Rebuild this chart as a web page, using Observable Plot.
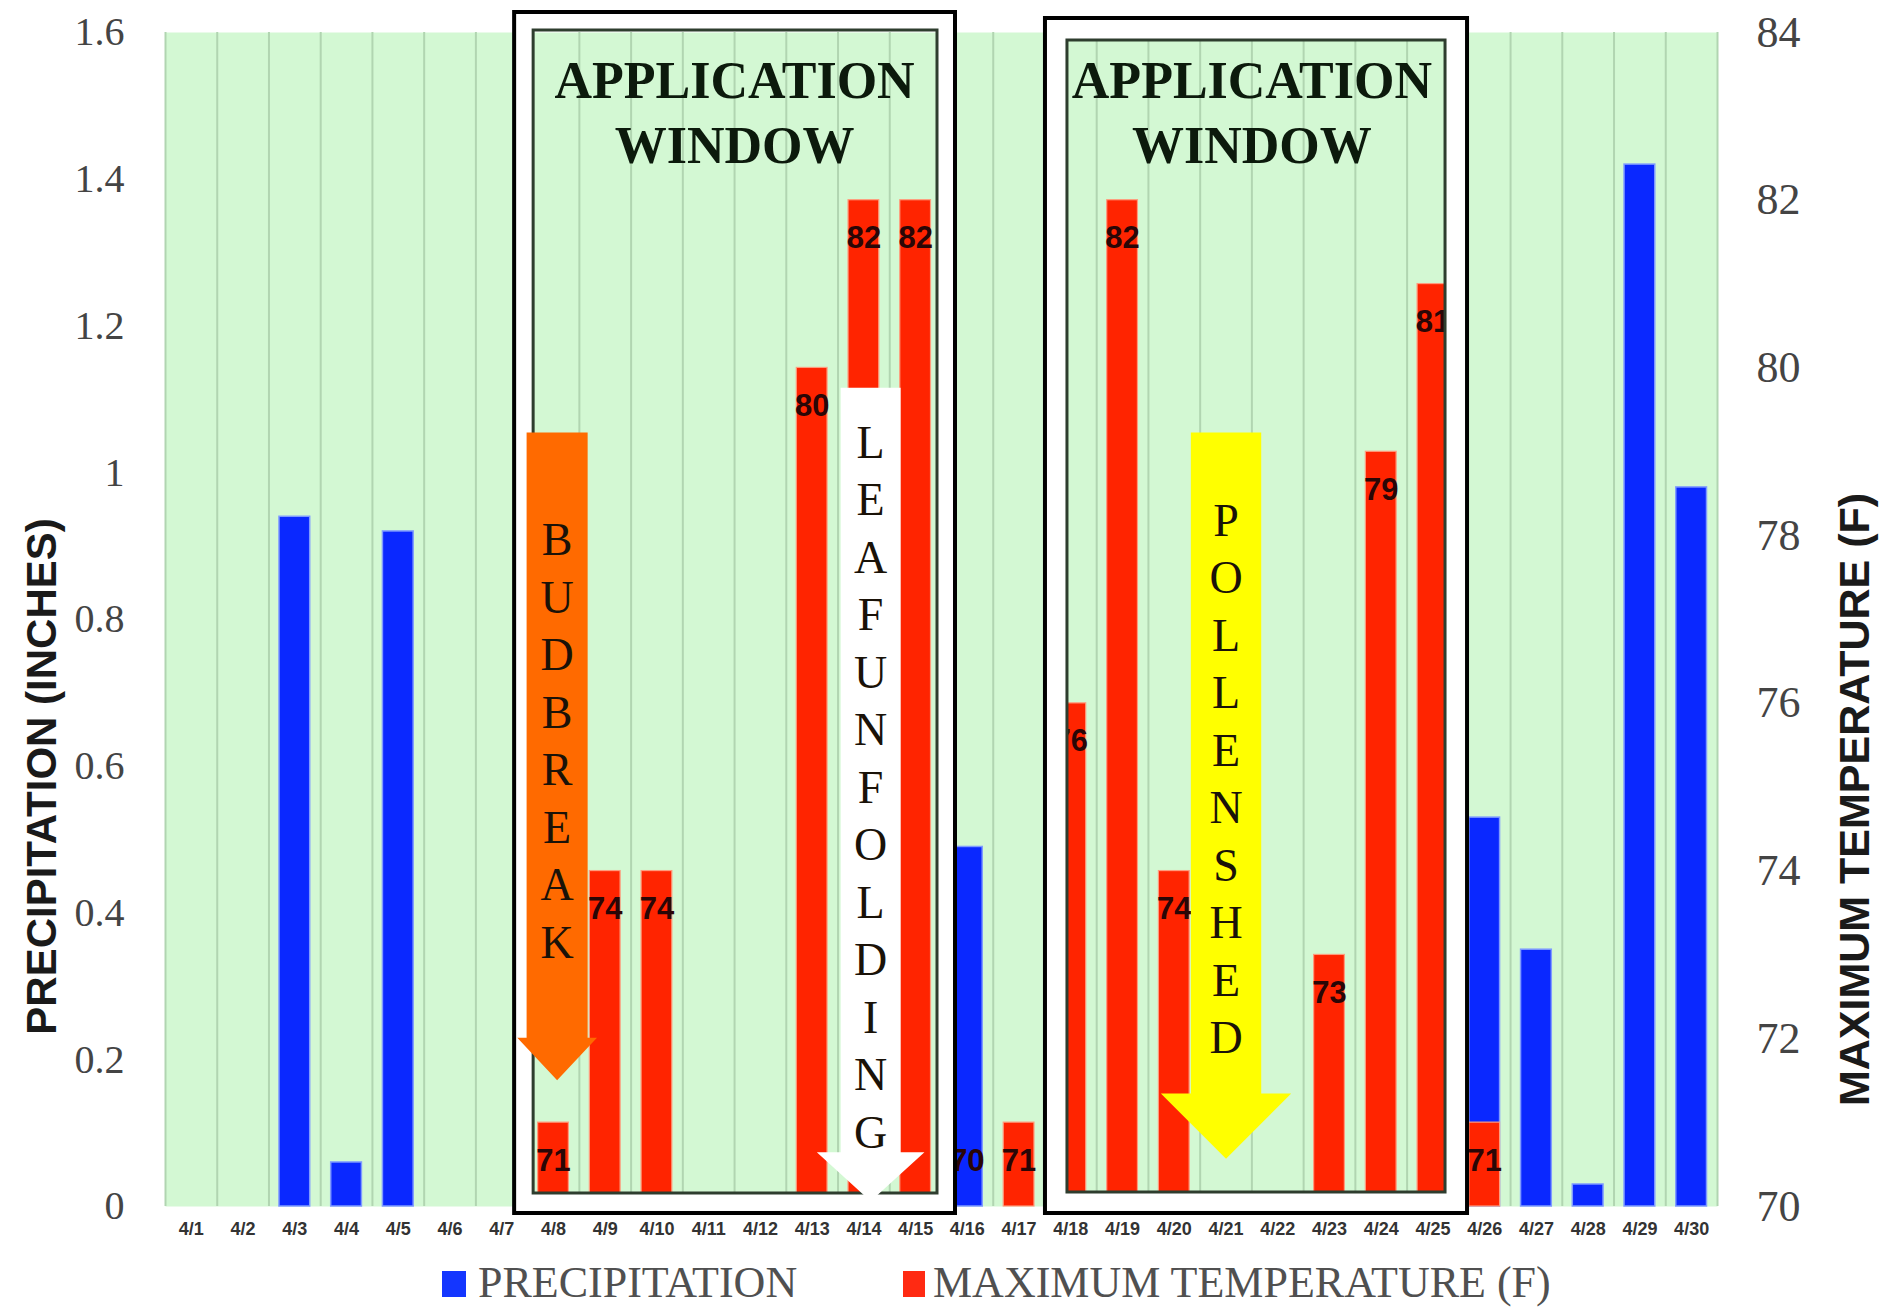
<!DOCTYPE html>
<html>
<head>
<meta charset="utf-8">
<script src="https://cdn.jsdelivr.net/npm/d3@7"></script>
<script src="https://cdn.jsdelivr.net/npm/@observablehq/plot@0.6"></script>
<style>
  body { margin: 0; background: #ffffff; }
  #chart { width: 1883px; }
  #legend { position: relative; width: 1883px; height: 61px; font-family: "Liberation Serif", serif; color: #505050; }
  #legend .sw { position: absolute; top: 21px; width: 24px; height: 26px; }
  #legend .lt { position: absolute; top: 11px; font-size: 44px; line-height: 44px; white-space: nowrap; }
</style>
</head>
<body>
<div id="chart"></div>
<div id="legend">
  <span class="sw" style="left:442px;background:#1436ff"></span>
  <span class="lt" style="left:478px">PRECIPITATION</span>
  <span class="sw" style="left:903px;width:22px;background:#ff2a12"></span>
  <span class="lt" style="left:933px">MAXIMUM TEMPERATURE (F)</span>
</div>
<script>
// ---- data ----
const days = ["4/1","4/2","4/3","4/4","4/5","4/6","4/7","4/8","4/9","4/10",
  "4/11","4/12","4/13","4/14","4/15","4/16","4/17","4/18","4/19","4/20",
  "4/21","4/22","4/23","4/24","4/25","4/26","4/27","4/28","4/29","4/30"];
const precipitation = [0, 0, 0.94, 0.06, 0.92, 0, 0, 0, 0, 0,
  0, 0, 0, 0, 0, 0.49, 0, 0, 0, 0,
  0, 0, 0, 0, 0, 0.53, 0.35, 0.03, 1.42, 0.98];
const maxTemperature = [null, null, null, null, null, null, null, 71, 74, 74,
  null, null, 80, 82, 82, 70, 71, 76, 82, 74,
  null, null, 73, 79, 81, 71, null, null, null, null];
const precipTicks = [0, 0.2, 0.4, 0.6, 0.8, 1, 1.2, 1.4, 1.6];
const tempTicks = [70, 72, 74, 76, 78, 80, 82, 84];

// annotation definitions (day numbers / axis units)
const windows = [
  {from: 8, to: 15, label: "APPLICATION\nWINDOW"},
  {from: 18, to: 25, label: "APPLICATION\nWINDOW"}
];
const stages = [
  {id: "bud", label: "BUDBREAK", day: 8.07, top: 1.055, base: 0.230, tip: 0.172, shaft: 0.59, head: 0.77, fill: "#ff6a00", textBottom: 0.339},
  {id: "leaf", label: "LEAFUNFOLDING", day: 14.13, top: 1.116, base: 0.074, tip: 0.007, shaft: 0.58, head: 1.04, fill: "#ffffff", textBottom: 0.080},
  {id: "pollen", label: "POLLENSHED", day: 21.0, top: 1.055, base: 0.154, tip: 0.065, shaft: 0.68, head: 1.26, fill: "#ffff00", textBottom: 0.209}
];

// ---- derived ----
const tMin = 70, tMax = 84, pMax = 1.6;
const toY = t => (t - tMin) / (tMax - tMin) * pMax;
const fromY = v => Math.round(tMin + v * (tMax - tMin) / pMax);

const rows = days.map((d, k) => ({day: k + 1, label: d, precip: precipitation[k], temp: maxTemperature[k]}));
const precipRows = rows.filter(r => r.precip > 0);
const tempRows = rows.filter(r => r.temp != null);

const arrowPts = stages.flatMap(s => [
  {id: s.id, fill: s.fill, x: s.day - s.shaft, y: s.top},
  {id: s.id, fill: s.fill, x: s.day + s.shaft, y: s.top},
  {id: s.id, fill: s.fill, x: s.day + s.shaft, y: s.base},
  {id: s.id, fill: s.fill, x: s.day + s.head, y: s.base},
  {id: s.id, fill: s.fill, x: s.day, y: s.tip},
  {id: s.id, fill: s.fill, x: s.day - s.head, y: s.base},
  {id: s.id, fill: s.fill, x: s.day - s.shaft, y: s.base}
]);

function boxMarks(w, band, outer, inner, bandWidth) {
  const base = {x1: d => d.from - 0.5, x2: d => d.to + 0.5, y1: () => 0, y2: () => pMax, fill: "none"};
  return [
    Plot.rect([w], {...base, stroke: "#ffffff", strokeWidth: bandWidth, insetLeft: band[0], insetRight: band[1], insetTop: band[2], insetBottom: band[3]}),
    Plot.rect([w], {...base, stroke: "#000000", strokeWidth: 4, insetLeft: outer[0], insetRight: outer[1], insetTop: outer[2], insetBottom: outer[3]}),
    Plot.rect([w], {...base, stroke: "#2e3d2e", strokeWidth: 3, insetLeft: inner[0], insetRight: inner[1], insetTop: inner[2], insetBottom: inner[3]})
  ];
}

const chart = Plot.plot({
  width: 1883,
  height: 1250,
  marginLeft: 165,
  marginRight: 166,
  marginTop: 32,
  marginBottom: 44,
  style: {background: "#ffffff", fontFamily: "Liberation Serif"},
  x: {type: "linear", domain: [0.5, 30.5]},
  y: {domain: [0, pMax]},
  marks: [
    Plot.frame({fill: "#d3f8d3", stroke: "none"}),
    Plot.ruleX(d3.range(0, 31).map(k => k + 0.5), {stroke: "#b1d5b1", strokeWidth: 2}),
    Plot.rectY(precipRows, {x1: d => d.day - 0.5, x2: d => d.day + 0.5, y: "precip", fill: "#0a28ff", stroke: "#7f9bff", strokeWidth: 1.5, insetLeft: 10.5, insetRight: 10.5}),
    Plot.rectY(tempRows, {x1: d => d.day - 0.5, x2: d => d.day + 0.5, y1: () => 0, y2: d => toY(d.temp), fill: "#ff2400", stroke: "#ff9b7d", strokeWidth: 1.2, insetLeft: 10.5, insetRight: 10.5}),
    Plot.text(tempRows, {x: "day", y: d => toY(Math.max(d.temp, 71)), text: d => String(d.temp), dy: 38, fontSize: 31, fontWeight: "bold", fontFamily: "Liberation Sans", fill: "#2a0606"}),
    ...boxMarks(windows[0], [-3.6, -5, -11, 3], [-13, -14, -20, -7], [6, 4, -2, 13], 19),
    ...boxMarks(windows[1], [11.5, 2.3, -3, 3.5], [0.5, -8.7, -14, -7], [22.5, 13.3, 8, 14], 22),
    Plot.text(windows, {x: d => (d.from + d.to) / 2, y: () => 1.4215, text: "label", lineAnchor: "bottom", lineHeight: 1.25, fontSize: 52, fontWeight: "bold", fontFamily: "Liberation Serif", fill: "#0c1a0c"}),
    Plot.line(arrowPts, {x: "x", y: "y", z: "id", fill: "fill", stroke: "none"}),
    Plot.text(stages, {x: "day", y: "textBottom", text: d => d.label.split("").join("\n"), lineAnchor: "bottom", lineHeight: 57.5 / 46, fontSize: 46, fontFamily: "Liberation Serif", fill: "#1a1208"}),
    Plot.axisY({anchor: "left", ticks: precipTicks, tickFormat: d => String(d), tickSize: 0, tickPadding: 41, fontSize: 40, fontFamily: "Liberation Serif", color: "#444444", label: null}),
    Plot.axisY({anchor: "right", ticks: tempTicks.map(toY), tickFormat: v => String(fromY(v)), tickSize: 0, tickPadding: 39, fontSize: 44, fontFamily: "Liberation Serif", color: "#444444", label: null}),
    Plot.axisX({ticks: d3.range(1, 31), tickFormat: k => days[k - 1], tickSize: 0, tickPadding: 16, fontSize: 18, fontWeight: "bold", fontFamily: "Liberation Sans", color: "#333333", label: null}),
    Plot.text(["PRECIPITATION (INCHES)"], {frameAnchor: "left", textAnchor: "middle", lineAnchor: "middle", text: d => d, rotate: -90, dx: -123, dy: 157, fontSize: 42, fontWeight: "bold", fontFamily: "Liberation Sans", fill: "#1a1a1a"}),
    Plot.text(["MAXIMUM TEMPERATURE (F)"], {frameAnchor: "right", textAnchor: "middle", lineAnchor: "middle", text: d => d, rotate: -90, dx: 138, dy: 180, fontSize: 43, fontWeight: "bold", fontFamily: "Liberation Sans", fill: "#1a1a1a"})
  ]
});
document.getElementById("chart").appendChild(chart);
</script>
</body>
</html>
